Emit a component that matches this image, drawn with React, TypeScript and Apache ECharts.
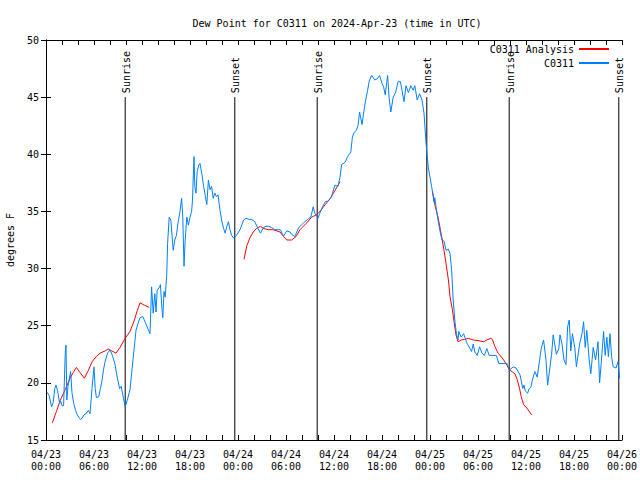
import React, { useEffect, useRef } from "react";
import * as echarts from "echarts";

const FONT = "DejaVu Sans Mono";

const titleText = "Dew Point for C0311 on 2024-Apr-23 (time in UTC)";
const yAxisTitle = "degrees F";

const xTickLabels = [
  "04/23\n00:00", "04/23\n06:00", "04/23\n12:00", "04/23\n18:00",
  "04/24\n00:00", "04/24\n06:00", "04/24\n12:00", "04/24\n18:00",
  "04/25\n00:00", "04/25\n06:00", "04/25\n12:00", "04/25\n18:00",
  "04/26\n00:00",
];

// hours since 04/23 00:00 UTC
const sunTimes = [9.9, 23.6, 33.9, 47.6, 57.9, 71.6];
const sunLabels = ["Sunrise", "Sunset", "Sunrise", "Sunset", "Sunrise", "Sunset"];
const sunLineTop = 45;

// C0311 Analysis (red) [hour, degF]
const analysisDay1 = [
  [0.8, 16.5], [1.3, 17.5], [1.8, 18.5], [2.4, 19.4], [3.0, 20.4], [3.4, 20.9],
  [3.8, 21.35], [4.25, 20.9], [4.8, 20.4], [5.3, 21.1], [5.8, 21.9], [6.3, 22.3],
  [6.75, 22.6], [7.4, 22.8], [7.8, 22.95], [8.2, 22.8], [8.75, 22.6], [9.25, 23.1],
  [9.9, 23.9], [10.5, 24.5], [11.0, 25.4], [11.4, 26.3], [11.75, 27.0], [12.3, 26.8],
  [12.9, 26.6],
];
const analysisDay2 = [
  [24.75, 30.8], [25.1, 32.0], [25.5, 32.7], [25.9, 33.2], [26.3, 33.5], [26.8, 33.7],
  [27.2, 33.5], [27.8, 33.4], [28.4, 33.4], [29.25, 33.2], [29.7, 32.8], [30.1, 32.5],
  [30.7, 32.5], [31.25, 32.8], [31.75, 33.4], [32.6, 34.0], [33.2, 34.5], [33.8, 34.7],
  [34.25, 35.0], [34.9, 35.6], [35.5, 36.1], [36.1, 36.8], [36.75, 37.6],
];
const analysisDay3 = [
  [48.3, 36.8], [48.6, 35.6], [49.0, 34.5], [49.3, 33.4], [49.5, 32.6], [49.75, 31.6],
  [50.0, 30.45], [50.3, 29.0], [50.5, 27.55], [50.8, 26.4], [51.0, 25.35], [51.25, 24.2],
  [51.5, 23.6], [51.9, 23.75], [52.3, 23.8], [52.8, 23.9], [53.4, 23.75], [54.0, 23.7],
  [54.7, 23.6], [55.1, 23.75], [55.6, 23.9], [55.8, 23.8], [56.1, 23.2], [56.5, 22.6],
  [57.0, 22.2], [57.4, 21.8], [58.0, 21.1], [58.6, 20.8], [58.9, 20.3], [59.2, 19.5],
  [59.4, 18.8], [59.7, 18.1], [60.1, 17.8], [60.7, 17.2],
];

// C0311 observations (blue) [hour, degF]
const obsDay1 = [
  [0.1, 19.2], [0.4, 18.9], [0.7, 17.9], [0.9, 18.3], [1.1, 19.5], [1.25, 19.8],
  [1.45, 19.3], [1.7, 18.2], [1.83, 18.4], [2.0, 18.0], [2.2, 18.0], [2.4, 22.5],
  [2.5, 23.3], [2.6, 18.5], [2.75, 19.7], [2.9, 20.3], [3.08, 21.0], [3.25, 19.1],
  [3.5, 18.1], [3.7, 17.6], [3.9, 17.2], [4.1, 17.0], [4.3, 16.8], [4.5, 16.9],
  [4.75, 17.2], [5.0, 17.3], [5.3, 17.6], [5.5, 17.3], [5.75, 19.5], [6.0, 21.4],
  [6.15, 19.5], [6.3, 18.7], [6.6, 18.8], [6.8, 19.5], [7.0, 20.2], [7.2, 21.2],
  [7.4, 21.9], [7.7, 22.6], [8.0, 22.9], [8.3, 22.4], [8.6, 21.7], [8.9, 20.5],
  [9.2, 19.5], [9.4, 19.7], [9.7, 18.6], [9.9, 17.9], [10.2, 18.6], [10.5, 19.4],
  [10.7, 20.8], [11.0, 22.9], [11.25, 24.6], [11.5, 25.2], [11.75, 25.7], [12.1, 25.8],
  [12.4, 25.3], [12.7, 24.8], [13.0, 24.3], [13.2, 28.4], [13.4, 26.1], [13.6, 27.8],
  [13.75, 26.2], [13.9, 28.1], [14.2, 28.4], [14.3, 28.6], [14.5, 26.4], [14.6, 25.7],
  [14.75, 28.0], [14.9, 27.5], [15.1, 29.6], [15.2, 32.2], [15.4, 34.5], [15.6, 34.25],
  [15.8, 32.5], [15.9, 31.6], [16.1, 32.5], [16.3, 32.9], [16.5, 34.0], [16.75, 35.0],
  [16.95, 36.15], [17.1, 34.5], [17.25, 30.2], [17.4, 32.5], [17.6, 34.5], [17.8, 33.8],
  [18.0, 34.5], [18.2, 35.0], [18.3, 35.85], [18.5, 39.8], [18.6, 37.2], [18.75, 36.6],
  [18.9, 38.5], [19.1, 39.06], [19.25, 39.2], [19.5, 38.2], [19.7, 37.2], [19.9, 36.4],
  [20.1, 35.6], [20.3, 37.75], [20.5, 36.9], [20.7, 37.2], [20.9, 36.15], [21.1, 36.6],
  [21.3, 36.3], [21.5, 36.45], [21.75, 35.1], [21.95, 34.25], [22.2, 33.5], [22.4, 33.1],
  [22.6, 33.7], [22.8, 34.1], [23.0, 33.4], [23.2, 32.9], [23.5, 32.65], [23.8, 32.9],
];
const obsDay2 = [
  [24.25, 33.4], [24.7, 34.25], [25.0, 34.4], [25.4, 34.3], [25.7, 34.3], [26.1, 34.1],
  [26.5, 33.5], [26.8, 33.1], [27.2, 33.6], [27.5, 33.7], [27.8, 33.7], [28.2, 33.6],
  [28.6, 33.4], [29.0, 33.4], [29.3, 33.4], [29.5, 33.1], [29.7, 32.85], [30.1, 33.3],
  [30.5, 33.2], [30.7, 33.0], [31.1, 32.8], [31.6, 33.6], [31.9, 33.8], [32.2, 34.0],
  [32.7, 34.3], [33.1, 34.5], [33.4, 35.4], [33.6, 34.85], [34.0, 34.4], [34.2, 34.8],
  [34.5, 35.3], [34.9, 35.85], [35.2, 35.9], [35.5, 36.1], [35.7, 36.3], [36.1, 37.3],
  [36.5, 37.2], [36.75, 38.0], [36.95, 39.1], [37.4, 39.3], [37.7, 39.8], [38.1, 40.2],
  [38.3, 41.5], [38.5, 41.9], [38.8, 42.1], [39.0, 42.5], [39.2, 43.7], [39.5, 42.6],
  [39.7, 43.6], [39.9, 44.5], [40.2, 45.6], [40.4, 46.4], [40.7, 46.9], [40.9, 46.7],
  [41.1, 46.5], [41.4, 46.6], [41.7, 46.9], [42.0, 46.2], [42.2, 45.9], [42.4, 45.2],
  [42.6, 46.3], [42.7, 46.9], [42.9, 44.9], [43.1, 43.7], [43.4, 45.0], [43.7, 45.4],
  [44.0, 46.35], [44.3, 46.35], [44.5, 45.6], [44.75, 44.6], [45.0, 46.0], [45.3, 45.4],
  [45.6, 46.0], [45.9, 45.6], [46.1, 46.0], [46.4, 44.75], [46.7, 45.3], [47.0, 44.75],
  [47.25, 43.6],
];
const obsDay3 = [
  [47.5, 41.0], [47.8, 38.8], [48.2, 37.2], [48.5, 35.85], [48.6, 36.2], [48.75, 35.4],
  [49.0, 34.25], [49.3, 33.1], [49.5, 32.5], [49.75, 32.4], [50.0, 31.6], [50.3, 31.7],
  [50.5, 31.3], [50.7, 29.9], [50.9, 27.25], [51.1, 25.5], [51.3, 24.3], [51.5, 23.75],
  [51.6, 24.5], [51.9, 24.0], [52.2, 24.3], [52.6, 23.5], [53.0, 23.0], [53.2, 22.75],
  [53.4, 23.4], [53.6, 22.7], [53.9, 22.4], [54.2, 23.15], [54.5, 22.6], [54.8, 22.4],
  [55.1, 23.0], [55.4, 22.4], [56.3, 22.4], [56.6, 21.7], [57.6, 21.7], [57.9, 21.1],
  [58.4, 21.4], [58.75, 21.3], [59.25, 20.7], [59.6, 19.5], [59.75, 19.8], [59.9, 19.3],
  [60.2, 19.1], [60.4, 19.5], [60.6, 19.6], [60.8, 20.25], [61.1, 21.0], [61.4, 20.5],
  [61.7, 22.0], [61.9, 23.0], [62.2, 23.75], [62.5, 22.0], [62.7, 19.8], [63.0, 21.4],
  [63.2, 22.5], [63.4, 24.2], [63.8, 22.5], [64.1, 23.0], [64.25, 24.2], [64.5, 23.4],
  [64.75, 22.0], [65.0, 21.6], [65.2, 24.9], [65.4, 25.5], [65.6, 22.8], [65.8, 24.3],
  [66.1, 23.1], [66.3, 21.4], [66.7, 23.4], [67.0, 24.3], [67.2, 25.35], [67.4, 23.1],
  [67.6, 24.6], [67.9, 22.0], [68.1, 20.8], [68.4, 23.1], [68.7, 22.0], [69.0, 23.6],
  [69.2, 20.0], [69.4, 21.7], [69.7, 24.5], [69.9, 22.4], [70.1, 24.0], [70.3, 22.3],
  [70.5, 24.3], [70.7, 22.3], [70.9, 21.4], [71.25, 21.3], [71.5, 21.85], [71.7, 20.4],
];

const GAP = ["-", "-"];

export default function App() {
  const ref = useRef<HTMLDivElement>(null);

  useEffect(() => {
    if (!ref.current) return;
    const chart = echarts.init(ref.current, null, { renderer: "svg" });
    const tickStyle = { color: "#000", width: 1 };
    const baseX = {
      type: "value",
      min: 0,
      max: 72,
      interval: 6,
      axisLine: { lineStyle: tickStyle },
      axisTick: { inside: true, length: 5, lineStyle: tickStyle },
      minorTick: { show: true, splitNumber: 3, length: 5, lineStyle: tickStyle },
      splitLine: { show: false },
    };
    const baseY = {
      type: "value",
      min: 15,
      max: 50,
      interval: 5,
      axisLine: { show: true, lineStyle: tickStyle },
      axisTick: { show: true, inside: true, length: 5, lineStyle: tickStyle },
      splitLine: { show: false },
    };
    const option = {
      animation: false,
      backgroundColor: "#fff",
      textStyle: { fontFamily: FONT },
      title: {
        text: titleText,
        left: 332,
        textAlign: "center",
        top: 13,
        textStyle: { fontFamily: FONT, fontSize: 10, fontWeight: "normal", color: "#000" },
      },
      legend: {
        orient: "vertical",
        right: 30,
        top: 44,
        align: "right",
        padding: 0,
        itemWidth: 30,
        itemHeight: 10,
        itemGap: 4,
        itemStyle: { opacity: 0 },
        textStyle: { fontFamily: FONT, fontSize: 10, color: "#000" },
        data: ["C0311 Analysis", "C0311"],
      },
      grid: { left: 46, right: 18, top: 40, bottom: 40, outerBoundsMode: "none", containLabel: false },
      xAxis: [
        {
          ...baseX,
          position: "bottom",
          axisLabel: {
            margin: 8,
            fontFamily: FONT,
            fontSize: 10,
            color: "#000",
            lineHeight: 12,
            formatter: (v: number) => xTickLabels[Math.round(v / 6)] ?? "",
          },
        },
        { ...baseX, position: "top", axisLabel: { show: false } },
      ],
      yAxis: [
        {
          ...baseY,
          position: "left",
          name: yAxisTitle,
          nameLocation: "middle",
          nameRotate: 90,
          nameGap: 31,
          nameTextStyle: { fontFamily: FONT, fontSize: 10, color: "#000" },
          axisLabel: { margin: 7, fontFamily: FONT, fontSize: 10, color: "#000" },
        },
        { ...baseY, position: "right", axisLabel: { show: false } },
      ],
      series: [
        {
          type: "custom",
          name: "sun",
          clip: false,
          z: 1,
          data: sunTimes.map((h) => [h, sunLineTop]),
          encode: { x: 0, y: 1 },
          renderItem: (params: any, api: any) => {
            const h = api.value(0);
            const top = api.coord([h, api.value(1)]);
            const bot = api.coord([h, 15]);
            return {
              type: "group",
              children: [
                {
                  type: "line",
                  shape: { x1: top[0], y1: top[1], x2: bot[0], y2: bot[1] },
                  style: { stroke: "#000", lineWidth: 1 },
                },
                {
                  type: "text",
                  x: top[0] + 1,
                  y: top[1] - 4,
                  rotation: Math.PI / 2,
                  style: {
                    text: sunLabels[params.dataIndex],
                    fill: "#000",
                    font: `10px "${FONT}"`,
                    align: "left",
                    verticalAlign: "middle",
                  },
                },
              ],
            };
          },
        },
        {
          type: "line",
          name: "C0311 Analysis",
          showSymbol: false,
          symbol: "none",
          connectNulls: false,
          z: 2,
          color: "#ff0000",
          lineStyle: { color: "#ff0000", width: 1 },
          data: [...analysisDay1, GAP, ...analysisDay2, GAP, ...analysisDay3],
        },
        {
          type: "line",
          name: "C0311",
          showSymbol: false,
          symbol: "none",
          z: 3,
          color: "#0080ff",
          lineStyle: { color: "#0080ff", width: 1 },
          data: [...obsDay1, ...obsDay2, ...obsDay3],
        },
      ],
    };
    chart.setOption(option as any);
    return () => chart.dispose();
  }, []);

  return (
    <div
      ref={ref}
      style={{ position: "fixed", left: 0, top: 0, width: 640, height: 480 }}
    />
  );
}
